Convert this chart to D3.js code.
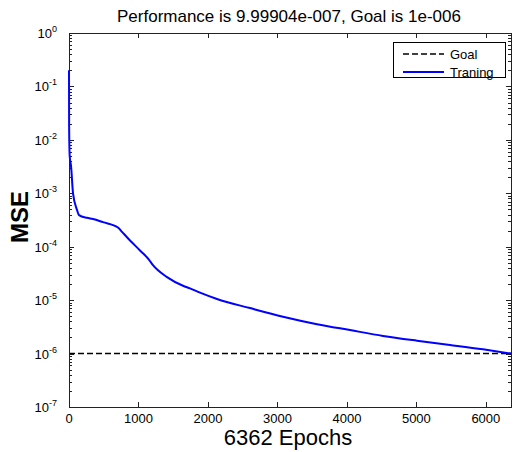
<!DOCTYPE html>
<html>
<head>
<meta charset="utf-8">
<script src="https://cdn.jsdelivr.net/npm/d3@7"></script>
<style>
  body { margin: 0; background: #fff; }
  text { font-family: "Liberation Sans", Arial, sans-serif; fill: #000; }
</style>
</head>
<body>
<script>
// data
let epochs = [0, 2, 10, 30, 58, 115, 144, 259, 345, 489, 705, 763, 835, 1022, 1150, 1209, 1411, 1641, 1742, 1886, 2130, 2605, 3080, 3570, 4045, 4520, 5009, 5484, 5959, 6362]
let mse = [2e-1, 1.78e-2, 5e-3, 3.16e-3, 1e-3, 4.9e-4, 3.9e-4, 3.47e-4, 3.31e-4, 2.88e-4, 2.29e-4, 1.9e-4, 1.5e-4, 8.5e-5, 5.75e-5, 4.5e-5, 2.7e-5, 1.86e-5, 1.66e-5, 1.38e-5, 1.05e-5, 7.1e-6, 4.9e-6, 3.55e-6, 2.75e-6, 2.14e-6, 1.74e-6, 1.45e-6, 1.2e-6, 9.99904e-7]
let goal = 1e-6
let xTicks = [0, 1000, 2000, 3000, 4000, 5000, 6000]
let yDecades = [-7, -6, -5, -4, -3, -2, -1, 0]
let legendNames = ['Goal', 'Traning']

let W = 513, H = 452
let M = {left: 69, right: 511, top: 33, bottom: 407}

let svg = d3.select('body').append('svg')
    .attr('width', W).attr('height', H)

let x = d3.scaleLinear().domain([0, 6362]).range([M.left, M.right])
let y = d3.scaleLog().domain([1e-7, 1]).range([M.bottom, M.top])

// minor ticks 2..9 in every decade
let minor = []
yDecades.slice(0, -1).forEach(d => {
  for (let k = 2; k <= 9; k++) minor.push(k * Math.pow(10, d))
})

let axisColor = '#222'
let ticks = svg.append('g').attr('stroke', axisColor).attr('stroke-width', 1)

// x ticks bottom + top
xTicks.forEach(t => {
  let px = Math.round(x(t)) + 0.5
  ticks.append('line').attr('x1', px).attr('x2', px).attr('y1', M.bottom).attr('y2', M.bottom - 5)
  ticks.append('line').attr('x1', px).attr('x2', px).attr('y1', M.top).attr('y2', M.top + 5)
})
// y major / minor ticks left + right
yDecades.forEach(d => {
  let py = Math.round(y(Math.pow(10, d))) + 0.5
  ticks.append('line').attr('x1', M.left).attr('x2', M.left + 5).attr('y1', py).attr('y2', py)
  ticks.append('line').attr('x1', M.right).attr('x2', M.right - 5).attr('y1', py).attr('y2', py)
})
minor.forEach(v => {
  let py = Math.round(y(v)) + 0.5
  ticks.append('line').attr('x1', M.left).attr('x2', M.left + 3).attr('y1', py).attr('y2', py)
  ticks.append('line').attr('x1', M.right).attr('x2', M.right - 3).attr('y1', py).attr('y2', py)
})

// goal line
svg.append('line')
    .attr('x1', x(0)).attr('x2', x(6362))
    .attr('y1', y(goal)).attr('y2', y(goal))
    .attr('stroke', '#000').attr('stroke-width', 1.6)
    .attr('stroke-dasharray', '6,3')

// training curve
let line = d3.line().x((d, i) => x(epochs[i])).y(d => y(d)).curve(d3.curveMonotoneX)
svg.append('path').datum(mse)
    .attr('d', line)
    .attr('fill', 'none')
    .attr('stroke', '#0000ff')
    .attr('stroke-width', 2)
    .attr('stroke-linejoin', 'round')

// box
svg.append('rect')
    .attr('x', M.left + 0.5).attr('y', M.top + 0.5)
    .attr('width', M.right - M.left).attr('height', M.bottom - M.top)
    .attr('fill', 'none').attr('stroke', axisColor).attr('stroke-width', 1)

// x tick labels
svg.append('g').selectAll('text').data(xTicks).enter().append('text')
    .attr('x', d => x(d)).attr('y', 423)
    .attr('text-anchor', 'middle')
    .attr('font-size', 13)
    .text(d => d)

// y tick labels 10^n
let yl = svg.append('g').selectAll('text').data(yDecades).enter().append('text')
    .attr('x', 57).attr('y', d => y(Math.pow(10, d)) + 5)
    .attr('text-anchor', 'end')
    .attr('font-size', 13)
yl.append('tspan').text('10')
yl.append('tspan').attr('dy', -6).attr('font-size', 9).text(d => d)

// title
svg.append('text')
    .attr('x', (M.left + M.right) / 2 - 1).attr('y', 22)
    .attr('text-anchor', 'middle')
    .attr('font-size', 17)
    .text('Performance is 9.99904e-007, Goal is 1e-006')

// axis labels
svg.append('text')
    .attr('x', (M.left + M.right) / 2 - 2).attr('y', 445)
    .attr('text-anchor', 'middle')
    .attr('font-size', 22)
    .text('6362 Epochs')

svg.append('text')
    .attr('transform', 'translate(28,217) rotate(-90)')
    .attr('text-anchor', 'middle')
    .attr('font-size', 24)
    .attr('font-weight', 'bold')
    .text('MSE')

// legend
let lg = svg.append('g')
lg.append('rect')
    .attr('x', 393.5).attr('y', 42.5).attr('width', 112).attr('height', 35)
    .attr('fill', '#fff').attr('stroke', '#000').attr('stroke-width', 1)
let rows = lg.selectAll('g.row').data(legendNames).enter().append('g')
    .attr('transform', (d, i) => 'translate(0,' + (54 + i * 18) + ')')
rows.append('line')
    .attr('x1', 403).attr('x2', 444).attr('y1', 0).attr('y2', 0)
    .attr('stroke', (d, i) => i === 0 ? '#000' : '#0000ff')
    .attr('stroke-width', (d, i) => i === 0 ? 1.6 : 2)
    .attr('stroke-dasharray', (d, i) => i === 0 ? '6,3' : null)
rows.append('text')
    .attr('x', 450).attr('y', 4.5)
    .attr('font-size', 13)
    .text(d => d)
</script>
</body>
</html>
